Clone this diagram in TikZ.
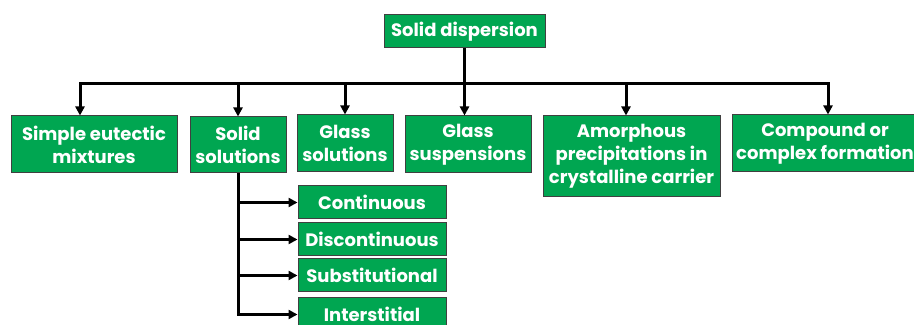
\documentclass[tikz,border=0pt]{standalone}
\usepackage{fontspec}
\setmainfont{Poppins}
\usetikzlibrary{arrows.meta}
\definecolor{boxgreen}{RGB}{0,166,81}

\begin{document}
\begin{tikzpicture}[x=0.5pt, y=-0.5pt,
	box/.style={draw=black!75, line width=0.5pt, fill=boxgreen, text=white, align=center, inner sep=0pt,
		font=\bfseries\fontsize{9}{11.5}\selectfont},
	arr/.style={line width=1.5pt, -{Triangle[length=4.5pt, width=4.5pt]}}]
			\clip (0,0) rectangle (914,325);
			\node[box, minimum width=80.5pt, minimum height=16.5pt] (root) at (464.5, 31.5) {Solid dispersion};
			\node[box, minimum width=83pt, minimum height=28.5pt] (eut) at (94, 144.5) {Simple eutectic\\mixtures};
			\node[box, minimum width=48pt, minimum height=28pt] (sol) at (238, 145) {Solid\\solutions};
			\node[box, minimum width=48pt, minimum height=28.5pt] (gls) at (345, 143.5) {Glass\\solutions};
			\node[box, minimum width=63pt, minimum height=28.5pt] (gsp) at (468, 144.5) {Glass\\suspensions};
			\node[box, minimum width=88.5pt, minimum height=40.5pt] (amo) at (631.5, 156.5) {Amorphous\\precipitations in\\crystalline carrier};
			\node[box, minimum width=93pt, minimum height=28.5pt] (cmp) at (825, 143.5) {Compound or\\complex formation};
			\node[box, minimum width=74pt, minimum height=16.5pt] (con) at (372, 202.5) {Continuous};
			\node[box, minimum width=74pt, minimum height=16.5pt] (dis) at (372, 239.5) {Discontinuous};
			\node[box, minimum width=74pt, minimum height=16.5pt] (sub) at (372, 275.5) {Substitutional};
			\node[box, minimum width=74pt, minimum height=16.5pt] (int) at (372, 314.5) {Interstitial};
			\coordinate (bus) at (464, 84);
			\draw[arr] (root.south) -- (root.south |- gsp.north);
			\draw[arr] (bus) -| ([xshift=-7pt]eut.north);
			\draw[arr] (bus) -| ([xshift=1.5pt]cmp.north);
			\draw[arr] (bus -| sol.north) -- (sol.north);
			\draw[arr] (bus -| gls.north) -- (gls.north);
			\draw[arr] ([xshift=-2.75pt]amo.north |- bus) -- ([xshift=-2.75pt]amo.north);
			\draw[arr] (sol.south) |- (int.west);
			\draw[arr] (sol.south |- con.west) -- (con.west);
			\draw[arr] (sol.south |- dis.west) -- (dis.west);
			\draw[arr] (sol.south |- sub.west) -- (sub.west);
		\end{tikzpicture}
\end{document}
